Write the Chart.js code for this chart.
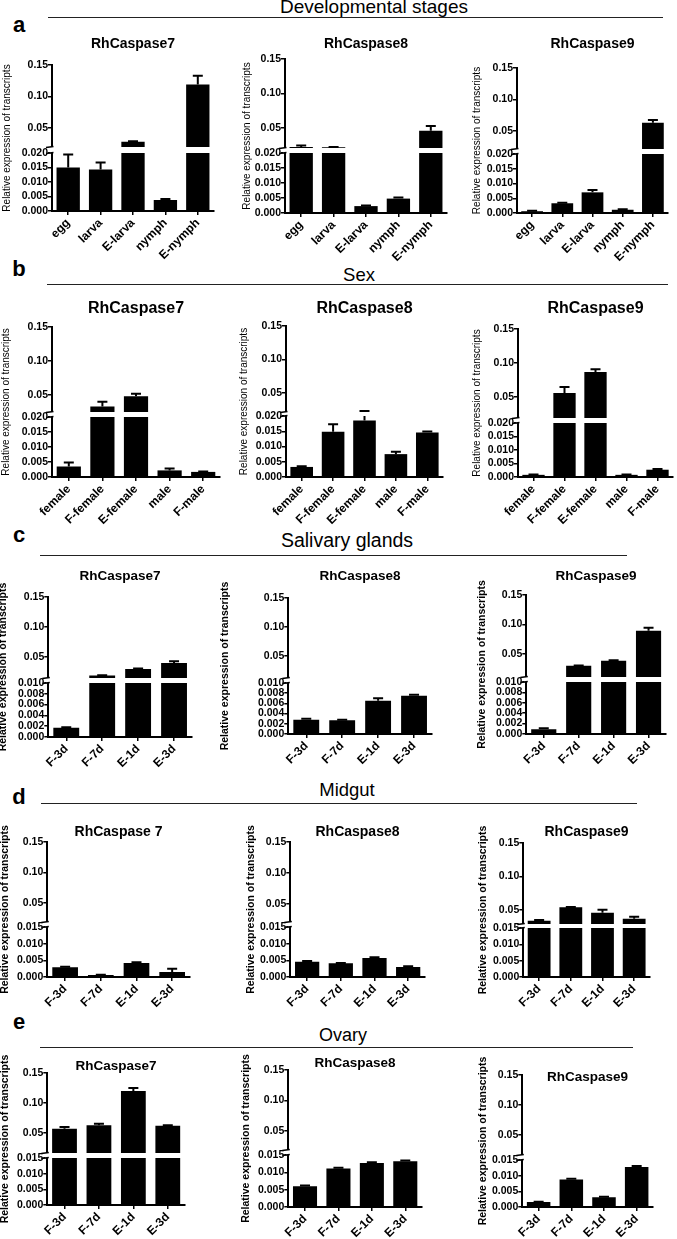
<!DOCTYPE html>
<html><head><meta charset="utf-8">
<script src="https://cdn.jsdelivr.net/npm/chart.js@4.4.1/dist/chart.umd.min.js"></script>
<style>
html,body{margin:0;padding:0;background:#fff;}
#fig{position:relative;width:677px;height:1239px;overflow:hidden;font-family:"Liberation Sans",Arial,sans-serif;color:#000;}
.t{position:absolute;white-space:nowrap;transform:translateX(-50%);}
.hl{position:absolute;height:0;border-top:1.5px solid #222;}
canvas{position:absolute;}
</style></head><body><div id="fig"></div>
<script>
// ---------------- DATA ----------------
const devCats = ['egg','larva','E-larva','nymph','E-nymph'];
const sexCats = ['female','F-female','E-female','male','F-male'];
const tissueCats = ['F-3d','F-7d','E-1d','E-3d'];
const upperTicks = [0.05, 0.10, 0.15];
const lowTicks20 = [0, 0.005, 0.010, 0.015, 0.020];
const lowTicks10 = [0, 0.002, 0.004, 0.006, 0.008, 0.010];
const lowTicks15 = [0, 0.005, 0.010, 0.015];

const devCasp7 = [0.0150, 0.0143, 0.0280, 0.0038, 0.1190];
const devCasp7Err = [0.0045, 0.0024, 0.0008, 0.0003, 0.0140];
const devCasp8 = [0.0225, 0.0220, 0.0023, 0.0048, 0.0460];
const devCasp8Err = [0.0020, 0.0005, 0.0002, 0.0004, 0.0070];
const devCasp9 = [0.0006, 0.0033, 0.0070, 0.0011, 0.0630];
const devCasp9Err = [0.0002, 0.0002, 0.0008, 0.0002, 0.0045];

const sexCasp7 = [0.0035, 0.0330, 0.0480, 0.0022, 0.0017];
const sexCasp7Err = [0.0013, 0.0070, 0.0040, 0.0006, 0.0001];
const sexCasp8 = [0.0033, 0.0148, 0.0185, 0.0075, 0.0146];
const sexCasp8Err = [0.0002, 0.0025, 0.0045, 0.0008, 0.0003];
const sexCasp9 = [0.0008, 0.0560, 0.0868, 0.0008, 0.0027];
const sexCasp9Err = [0.0001, 0.0087, 0.0040, 0.0001, 0.0003];

const sgCasp7 = [0.0017, 0.0190, 0.0300, 0.0400];
const sgCasp7Err = [0.0001, 0.0005, 0.0008, 0.0030];
const sgCasp8 = [0.0028, 0.0027, 0.0065, 0.0075];
const sgCasp8Err = [0.0002, 0.0001, 0.0005, 0.0002];
const sgCasp9 = [0.0009, 0.0300, 0.0386, 0.0895];
const sgCasp9Err = [0.0002, 0.0005, 0.0010, 0.0050];

const mgCasp7 = [0.0029, 0.0006, 0.0042, 0.0015];
const mgCasp7Err = [0.0002, 0.0001, 0.0002, 0.0010];
const mgCasp8 = [0.0046, 0.0041, 0.0057, 0.0030];
const mgCasp8Err = [0.0002, 0.0001, 0.0002, 0.0002];
const mgCasp9 = [0.0340, 0.0540, 0.0460, 0.0370];
const mgCasp9Err = [0.0010, 0.0005, 0.0045, 0.0030];

const ovCasp7 = [0.0570, 0.0630, 0.1200, 0.0620];
const ovCasp7Err = [0.0030, 0.0025, 0.0050, 0.0010];
const ovCasp8 = [0.0060, 0.0111, 0.0127, 0.0132];
const ovCasp8Err = [0.0002, 0.0002, 0.0002, 0.0002];
const ovCasp9 = [0.0016, 0.0088, 0.0031, 0.0128];
const ovCasp9Err = [0.0001, 0.0002, 0.0002, 0.0003];

const yAxisTitle = 'Relative expression of transcripts';

// ---------------- BROKEN AXIS SCALE ----------------
const BRK = {};
class BrokenScale extends Chart.LinearScale {
  determineDataLimits() { const b = BRK[this.chart.canvas.id]; this.min = 0; this.max = b.max; }
  buildTicks() { const b = BRK[this.chart.canvas.id]; return b.ticks.map(v => ({value: v})); }
  _brk() {
    const b = BRK[this.chart.canvas.id];
    const top = this.top, bot = this.bottom;
    const p05 = top + b.d05, pL = bot - b.hL, pU = pL - b.gap;
    const U = 0.05 - (pU - p05) / (p05 - top) * 0.10;
    return {b, top, bot, p05, pL, pU, U};
  }
  getPixelForValue(v) {
    const {b, top, bot, p05, pL, pU, U} = this._brk();
    if (v <= b.L) return bot - v / b.L * b.hL;
    if (U > b.L && v < U) return pL - (v - b.L) / (U - b.L) * b.gap;
    const up = p05 - (v - 0.05) / 0.10 * (p05 - top);
    return Math.min(up, pU);
  }
  getValueForPixel(p) {
    const {b, top, bot, p05, pL, pU, U} = this._brk();
    if (p >= pL) return (bot - p) / b.hL * b.L;
    if (p >= pU) return b.L + (pL - p) / b.gap * (Math.max(U, b.L) - b.L);
    return 0.05 + (p05 - p) / (p05 - top) * 0.10;
  }
}
BrokenScale.id = 'broken';
BrokenScale.defaults = Chart.LinearScale.defaults;
Chart.register(BrokenScale);

const breakPlugin = {
  id: 'breakPlugin',
  afterDatasetsDraw(chart) {
    const cfg = BRK[chart.canvas.id];
    const ys = chart.scales.y, ca = chart.chartArea, ctx = chart.ctx;
    const meta = chart.getDatasetMeta(0);
    const vals = chart.data.datasets[0].data;
    ctx.save();
    ctx.strokeStyle = '#000'; ctx.lineWidth = 2;
    meta.data.forEach((bar, i) => {
      const e = cfg.err[i];
      const y0 = ys.getPixelForValue(vals[i]);
      const y1 = ys.getPixelForValue(vals[i] + e);
      ctx.beginPath();
      ctx.moveTo(bar.x, y0); ctx.lineTo(bar.x, y1);
      ctx.moveTo(bar.x - cfg.cap, y1); ctx.lineTo(bar.x + cfg.cap, y1);
      ctx.stroke();
    });
    const {pL, pU} = ys._brk();
    ctx.fillStyle = '#fff';
    ctx.fillRect(ca.left - 2, pU, ca.right - ca.left + 6, pL - pU);
    ctx.lineWidth = 1.5;
    ctx.beginPath();
    ctx.moveTo(ca.left - 6, pU + 0.5); ctx.lineTo(ca.left + 1.5, pU - 0.5);
    ctx.moveTo(ca.left - 6, pL + 0.5); ctx.lineTo(ca.left + 1.5, pL - 0.5);
    ctx.stroke();
    ctx.restore();
  }
};

Chart.defaults.font.family = '"Liberation Sans", Arial, sans-serif';
Chart.defaults.color = '#000';

const fig = document.getElementById('fig');
function text(str, x, baseline, size, weight, family) {
  const d = document.createElement('div');
  d.className = 't';
  d.textContent = str;
  d.style.left = x + 'px';
  d.style.top = (baseline - 0.846 * size) + 'px';
  d.style.fontSize = size + 'px';
  d.style.lineHeight = size + 'px';
  d.style.fontWeight = weight || 'normal';
  if (family) d.style.fontFamily = family;
  fig.appendChild(d);
}
function hline(x1, x2, y) {
  const d = document.createElement('div');
  d.className = 'hl';
  d.style.left = x1 + 'px'; d.style.top = y + 'px'; d.style.width = (x2 - x1) + 'px';
  fig.appendChild(d);
}

let nChart = 0;
function panel(p) {
  const id = 'c' + (nChart++);
  const lh = p.ytSize * 1.2;
  const left = p.titleX - lh / 2;
  const top = p.yTop - 32;
  const right = p.axisEnd + 12;
  const xH = 56;
  const W = Math.round(right - left), H = Math.round(p.yBot - top + xH);
  const cv = document.createElement('canvas');
  cv.id = id; cv.width = W; cv.height = H;
  cv.style.left = left + 'px'; cv.style.top = top + 'px';
  cv.style.width = W + 'px'; cv.style.height = H + 'px';
  fig.appendChild(cv);
  const low = p.lowTicks;
  BRK[id] = {max: 0.15, ticks: low.concat(upperTicks), L: low[low.length - 1],
             d05: p.y05 - p.yTop, hL: p.yBot - p.yL, gap: p.gap, err: p.err, cap: 5};
  const fam = p.family || '"Liberation Sans", Arial, sans-serif';
  new Chart(cv, {
    type: 'bar',
    data: {labels: p.cats, datasets: [{data: p.vals, backgroundColor: '#000', borderWidth: 0,
           barPercentage: 0.72, categoryPercentage: 1}]},
    options: {
      responsive: false, animation: false, events: [],
      layout: {padding: {left: 0, top: p.yTop - top, right: right - p.axisEnd, bottom: 0}},
      plugins: {legend: {display: false}, tooltip: {enabled: false}, title: {display: false}},
      scales: {
        x: {type: 'category', offset: true,
            grid: {display: true, drawOnChartArea: false, drawTicks: true, tickLength: 4, color: '#000', lineWidth: 1.5, offset: false},
            border: {display: true, color: '#000', width: 2},
            ticks: {autoSkip: false, maxRotation: 45, minRotation: 45, padding: 1, color: '#000',
                    font: {size: 12, weight: 'bold', family: fam}},
            afterFit: s => { s.height = xH; }},
        y: {type: 'broken', min: 0, max: 0.15,
            grid: {display: true, drawOnChartArea: false, drawTicks: true, tickLength: 4, color: '#000', lineWidth: 1.5},
            border: {display: true, color: '#000', width: 2},
            ticks: {autoSkip: false, padding: 0, color: '#000', font: {size: 10.5, weight: 'bold', family: fam},
                    callback: v => (v >= 0.0499 ? v.toFixed(2) : v.toFixed(3))},
            title: {display: true, text: yAxisTitle, padding: 0, color: '#000',
                    font: {size: p.ytSize, weight: p.ytWeight, family: fam}},
            afterFit: s => { s.width = p.axisX - left; }}
      }
    },
    plugins: [breakPlugin]
  });
  text(p.name, (p.axisX + p.axisEnd) / 2, p.nameBase, p.nameSize, 'bold', p.family);
}

// ---------------- HEADERS ----------------
text('a', 19, 33, 22, 'bold');
text('Developmental stages', 374, 13, 19);
hline(48, 663, 17);
text('b', 19, 277, 22, 'bold');
text('Sex', 359, 282, 18.5);
hline(47, 668, 284);
text('c', 19, 543, 22, 'bold');
text('Salivary glands', 347, 547, 19.5);
hline(40, 627, 555);
text('d', 19, 805, 22, 'bold');
text('Midgut', 347, 797, 18.5);
hline(41, 637, 803);
text('e', 19, 1030, 22, 'bold');
text('Ovary', 343, 1041, 18);
hline(40, 633, 1047);

// ---------------- PANELS ----------------
const narrow = '"Liberation Sans Narrow", "Liberation Sans", Arial, sans-serif';
// row a
panel({name:'RhCaspase7', cats:devCats, vals:devCasp7, err:devCasp7Err, lowTicks:lowTicks20,
  axisX:52, axisEnd:214, yTop:65, y05:128, yL:153, yBot:211, gap:6, titleX:7, ytSize:10, ytWeight:'normal', nameBase:48, nameSize:14});
panel({name:'RhCaspase8', cats:devCats, vals:devCasp8, err:devCasp8Err, lowTicks:lowTicks20,
  axisX:285, axisEnd:447, yTop:59, y05:128, yL:153, yBot:213, gap:5, titleX:247, ytSize:10, ytWeight:'normal', nameBase:48, nameSize:14});
panel({name:'RhCaspase9', cats:devCats, vals:devCasp9, err:devCasp9Err, lowTicks:lowTicks20,
  axisX:517, axisEnd:668, yTop:68, y05:131, yL:154, yBot:213, gap:5, titleX:477, ytSize:10, ytWeight:'normal', nameBase:48, nameSize:14});
// row b
panel({name:'RhCaspase7', cats:sexCats, vals:sexCasp7, err:sexCasp7Err, lowTicks:lowTicks20,
  axisX:52, axisEnd:220, yTop:327, y05:395, yL:417, yBot:477, gap:5, titleX:6, ytSize:10, ytWeight:'normal', nameBase:314, nameSize:16});
panel({name:'RhCaspase8', cats:sexCats, vals:sexCasp8, err:sexCasp8Err, lowTicks:lowTicks20,
  axisX:286, axisEnd:443, yTop:326, y05:393, yL:416, yBot:477, gap:4, titleX:244, ytSize:10, ytWeight:'normal', nameBase:314, nameSize:16});
panel({name:'RhCaspase9', cats:sexCats, vals:sexCasp9, err:sexCasp9Err, lowTicks:lowTicks20,
  axisX:518, axisEnd:673, yTop:329, y05:397, yL:423, yBot:477, gap:5, titleX:477, ytSize:10, ytWeight:'normal', nameBase:314, nameSize:16});
// row c
panel({name:'RhCaspase7', cats:tissueCats, vals:sgCasp7, err:sgCasp7Err, lowTicks:lowTicks10,
  axisX:48, axisEnd:192, yTop:597, y05:657, yL:683, yBot:737, gap:5, titleX:3, ytSize:10.5, ytWeight:'bold', nameBase:580, nameSize:13.5});
panel({name:'RhCaspase8', cats:tissueCats, vals:sgCasp8, err:sgCasp8Err, lowTicks:lowTicks10,
  axisX:288, axisEnd:432, yTop:598, y05:656, yL:683, yBot:734, gap:5, titleX:225, ytSize:10.5, ytWeight:'bold', nameBase:580, nameSize:13.5});
panel({name:'RhCaspase9', cats:tissueCats, vals:sgCasp9, err:sgCasp9Err, lowTicks:lowTicks10,
  axisX:526, axisEnd:666, yTop:595, y05:654, yL:682, yBot:734, gap:5, titleX:482, ytSize:10.5, ytWeight:'bold', nameBase:580, nameSize:13.5});
// row d
panel({name:'RhCaspase 7', cats:tissueCats, vals:mgCasp7, err:mgCasp7Err, lowTicks:lowTicks15,
  axisX:47, axisEnd:190, yTop:842, y05:903, yL:927, yBot:977, gap:5, titleX:5, ytSize:10.5, ytWeight:'bold', nameBase:836, nameSize:14, family:narrow});
panel({name:'RhCaspase8', cats:tissueCats, vals:mgCasp8, err:mgCasp8Err, lowTicks:lowTicks15,
  axisX:290, axisEnd:425, yTop:842, y05:904, yL:927, yBot:977, gap:5, titleX:251, ytSize:10.5, ytWeight:'bold', nameBase:836, nameSize:14, family:narrow});
panel({name:'RhCaspase9', cats:tissueCats, vals:mgCasp9, err:mgCasp9Err, lowTicks:lowTicks15,
  axisX:523, axisEnd:650, yTop:843, y05:910, yL:928, yBot:977, gap:4, titleX:483, ytSize:10.5, ytWeight:'bold', nameBase:836, nameSize:14, family:narrow});
// row e
panel({name:'RhCaspase7', cats:tissueCats, vals:ovCasp7, err:ovCasp7Err, lowTicks:lowTicks15,
  axisX:47, axisEnd:185, yTop:1073, y05:1133, yL:1158, yBot:1205, gap:5, titleX:5, ytSize:10.5, ytWeight:'bold', nameBase:1070, nameSize:13.5});
panel({name:'RhCaspase8', cats:tissueCats, vals:ovCasp8, err:ovCasp8Err, lowTicks:lowTicks15,
  axisX:288, axisEnd:422, yTop:1070, y05:1131, yL:1155, yBot:1207, gap:5, titleX:246, ytSize:10.5, ytWeight:'bold', nameBase:1067, nameSize:13.5});
panel({name:'RhCaspase9', cats:tissueCats, vals:ovCasp9, err:ovCasp9Err, lowTicks:lowTicks15,
  axisX:522, axisEnd:653, yTop:1075, y05:1135, yL:1160, yBot:1207, gap:5, titleX:483, ytSize:10.5, ytWeight:'bold', nameBase:1081, nameSize:13.5});
</script>
</body></html>
